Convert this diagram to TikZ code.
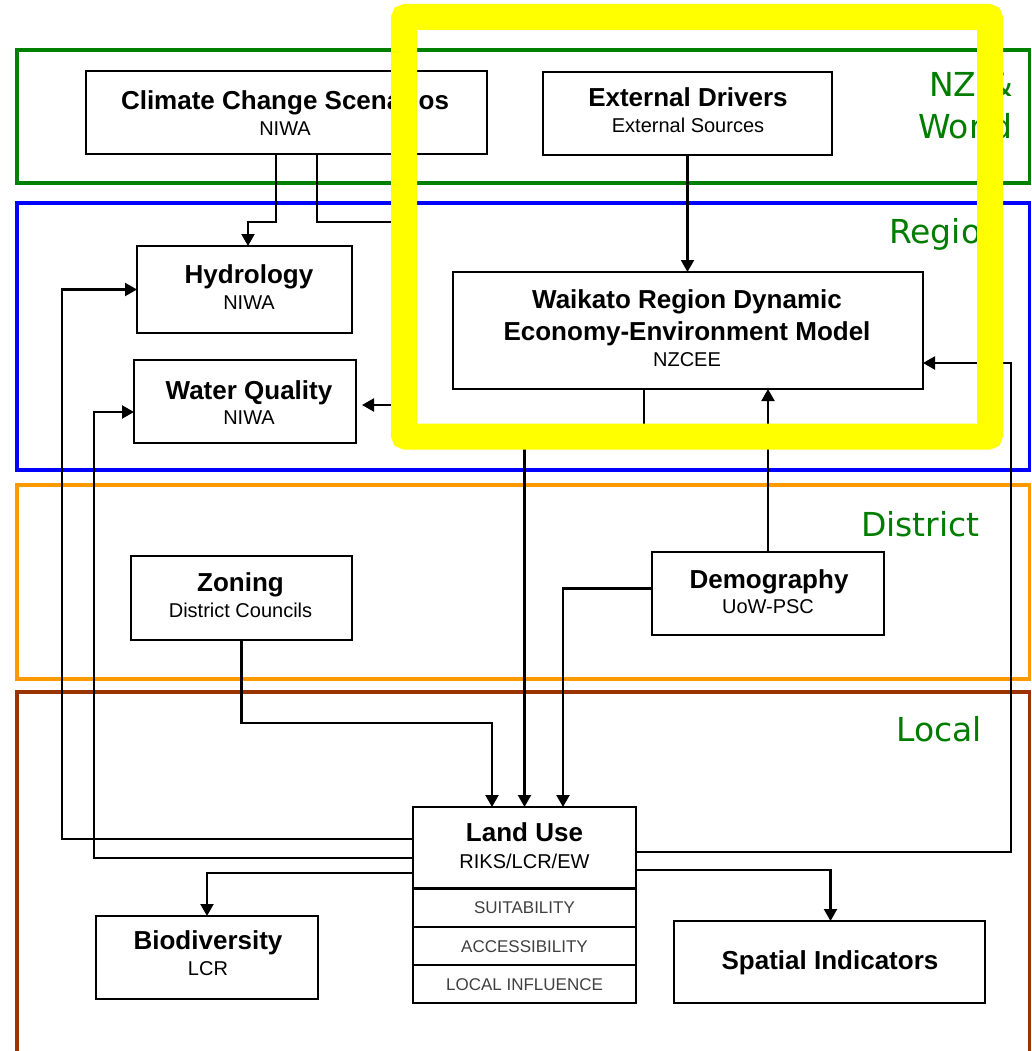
\documentclass[tikz,border=0pt]{standalone}
\usepackage{fontspec}
\setmainfont{Liberation Sans}
\newfontfamily\lblfont{DejaVu Sans}
\usetikzlibrary{arrows.meta}
\definecolor{frgreen}{RGB}{0,128,0}
\definecolor{frblue}{RGB}{0,0,255}
\definecolor{frorange}{RGB}{255,153,0}
\definecolor{frbrown}{RGB}{153,51,0}
\definecolor{lblgreen}{RGB}{0,125,0}
\definecolor{hlyellow}{RGB}{255,255,0}
\begin{document}
\begin{tikzpicture}[x=1pt,y=-1pt,
  frame/.style={line width=3.2pt},
  box/.style={draw=black, line width=2.3pt, fill=white, inner sep=0pt, outer sep=0pt},
  ttl/.style={anchor=base, inner sep=0pt, font=\fontsize{26}{30}\selectfont\bfseries},
  sub/.style={anchor=base, inner sep=0pt, font=\fontsize{20}{24}\selectfont},
  rowtxt/.style={anchor=base, inner sep=0pt, font=\fontsize{17}{20}\selectfont, text=black!75},
  lvl/.style={inner sep=0pt, text=lblgreen, font=\lblfont\fontsize{33}{38}\selectfont},
  conn/.style={line width=2.1pt, draw=black},
  arr/.style={conn, -{Triangle[length=12pt,width=13pt]}},
]
\useasboundingbox (0,0) rectangle (1032,1051);
\fill[white] (0,0) rectangle (1032,1051);

% level frames
\draw[frame, frgreen] (17,50) rectangle (1029.5,183);
\draw[frame, frblue] (17,203) rectangle (1029.5,470);
\draw[frame, frorange] (17,485) rectangle (1029.5,679);
\draw[frame, frbrown] (17,1060) -- (17,692) -- (1029.5,692) -- (1029.5,1060);

% boxes
\node[box, minimum width=401pt, minimum height=83pt] (clim) at (286.5,112.5) {};
\node[box, minimum width=289pt, minimum height=83pt] (ext) at (687.5,113.5) {};
\node[box, minimum width=215pt, minimum height=87pt] (hyd) at (244.5,289.5) {};
\node[box, minimum width=222pt, minimum height=83pt] (wq) at (245,401.5) {};
\node[box, minimum width=470pt, minimum height=117pt] (wai) at (688,330.5) {};
\node[box, minimum width=221pt, minimum height=84pt] (zon) at (241.5,598) {};
\node[box, minimum width=232pt, minimum height=83pt] (dem) at (768,593.5) {};
\node[box, minimum width=223pt, minimum height=81.5pt] (land) at (524.5,847.75) {};
\node[box, minimum width=223pt, minimum height=38.5pt] (suit) at (524.5,907.75) {};
\node[box, minimum width=223pt, minimum height=38pt] (acc) at (524.5,946) {};
\node[box, minimum width=223pt, minimum height=38pt] (locinf) at (524.5,984) {};
\node[box, minimum width=222pt, minimum height=83pt] (bio) at (207,957.5) {};
\node[box, minimum width=311pt, minimum height=82pt] (spat) at (829.5,962) {};

% box texts
\node[ttl] (climT) at (285,110) {Climate Change Scenarios};
\node[sub] (climS) at (285,136) {NIWA};
\node[ttl] (extT) at (688,107) {External Drivers};
\node[sub] (extS) at (688,133) {External Sources};
\node[ttl] (hydT) at (249,283) {Hydrology};
\node[sub] (hydS) at (249,309) {NIWA};
\node[ttl] (wqT) at (249,399) {Water Quality};
\node[sub] (wqS) at (249,424) {NIWA};
\node[ttl] (waiT1) at (687,308) {Waikato Region Dynamic};
\node[ttl] (waiT2) at (687,340) {Economy-Environment Model};
\node[sub] (waiS) at (687,366.5) {NZCEE};
\node[ttl] (zonT) at (240.5,591.5) {Zoning};
\node[sub] (zonS) at (240.5,617) {District Councils};
\node[ttl] (demT) at (769,588) {Demography};
\node[sub] (demS) at (768,613) {UoW-PSC};
\node[ttl] (landT) at (524.5,841.5) {Land Use};
\node[sub] (landS) at (524.5,868) {RIKS/LCR/EW};
\node[rowtxt] (suitT) at (524.5,913.5) {SUITABILITY};
\node[rowtxt] (accT) at (524.5,952) {ACCESSIBILITY};
\node[rowtxt] (locT) at (524.5,990) {LOCAL INFLUENCE};
\node[ttl] (bioT) at (208,949.5) {Biodiversity};
\node[sub] (bioS) at (208,975.5) {LCR};
\node[ttl] (spatT) at (830,969) {Spatial Indicators};

% connectors
\draw[arr] ([xshift=-10.5pt]clim.south) -- ++(0,68) -| ([xshift=3.5pt]hyd.north);
\draw[arr, shorten >=6pt] ([xshift=30.5pt]clim.south) -- ++(0,68) -- ++(87,0) |- ([yshift=-3.5pt]wq.east);
\draw[arr] (ext.south) -- (ext.south |- wai.north);
\draw[arr] ([xshift=-44pt]wai.south) -- ++(0,47) -| (land.north);
\draw[arr] (dem.north) -- (dem.north |- wai.south);
\draw[arr] ([yshift=5pt]dem.west) -| ([xshift=38.5pt]land.north);
\draw[arr] (zon.south) -- ++(0,83) -| ([xshift=-32.5pt]land.north);
\draw[arr] ([yshift=8.75pt]land.west) -- ++(-351,0) |- (hyd.west);
\draw[arr] ([yshift=-10pt]land.west) -- ++(-319,0) |- ([yshift=-10.5pt]wq.west);
\draw[arr] ([yshift=-25pt]land.west) -| (bio.north);
\draw[arr] ([yshift=-4pt]land.east) -- ++(375,0) |- ([yshift=-32.5pt]wai.east);
\draw[arr] ([yshift=-22pt]land.east) -| ([xshift=1pt]spat.north);

% level labels
\node[lvl, anchor=base east] (lNZ) at (1013,97) {NZ \&};
\node[lvl, anchor=base east] (lWorld) at (1013,139) {World};
\node[lvl, anchor=base west] (lRegion) at (889,243) {Region};
\node[lvl, anchor=base west] (lDistrict) at (861,536) {District};
\node[lvl, anchor=base west] (lLocal) at (896,741) {Local};

% yellow highlight
\draw[hlyellow, line width=26pt, rounded corners=2pt] (404,17) rectangle (990,436.5);
\end{tikzpicture}
\end{document}
